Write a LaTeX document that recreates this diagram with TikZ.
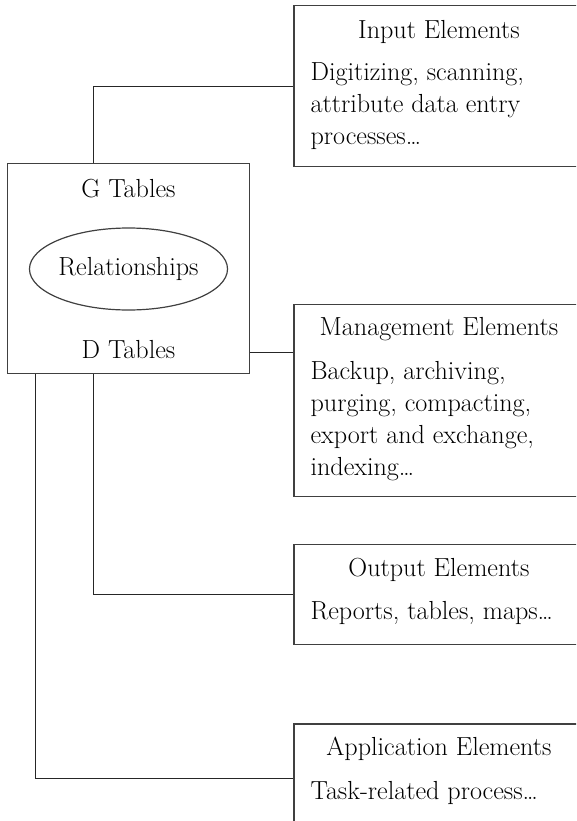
\documentclass[tikz,border=0pt]{standalone}
\usetikzlibrary{positioning,calc,shapes.geometric}

\begin{document}
\begin{tikzpicture}[
  x=0.75pt, y=-0.75pt,
  font=\fontsize{19.6}{24}\selectfont,
  tbl/.style={draw=black!75, line width=0.9pt, minimum width=181.8pt,
              minimum height=157.7pt, inner sep=0pt},
  rel/.style={draw=black!75, line width=0.9pt, ellipse, minimum width=146.3pt,
              minimum height=61.5pt, inner sep=0pt},
  elem/.style={draw=black!75, line width=0.9pt, anchor=north west,
               minimum width=217.5pt, inner sep=0pt},
  ttl/.style={inner sep=0pt},
  txt/.style={inner sep=0pt, anchor=north west, align=left},
  con/.style={draw=black!85, line width=0.8pt}
]
\useasboundingbox (0,0) rectangle (576,821);
\clip (0,0) rectangle (576,821);
% ---------------- database box ----------------
\node[tbl] (db) at (128.5,268.7) {};
\node[ttl] (gt) at (128.5,189) {G Tables};
\node[rel] (rl) at (128.5,269) {Relationships};
\node[ttl] (dt) at (128.5,350) {D Tables};
% ---------------- input ----------------
\node[elem, minimum height=120.75pt] (inp) at (293.3,5) {};
\node[ttl] at ($(inp.north)+(0,26.5)$) {Input Elements};
\node[txt] at ($(inp.north west)+(17,57.5)$)
  {Digitizing, scanning,\\ attribute data entry\\ processes\ldots};
% ---------------- management ----------------
\node[elem, minimum height=144pt] (mgmt) at (293.3,304) {};
\node[ttl] at ($(mgmt.north)+(0,25.5)$) {Management Elements};
\node[txt] at ($(mgmt.north west)+(17,57.5)$)
  {Backup, archiving,\\ purging, compacting,\\ export and exchange,\\ indexing\ldots};
% ---------------- output ----------------
\node[elem, minimum height=75pt] (outp) at (293.3,544) {};
\node[ttl] at ($(outp.north)+(0,25.5)$) {Output Elements};
\node[txt] at ($(outp.north west)+(17,57.5)$) {Reports, tables, maps\ldots};
% ---------------- application ----------------
\node[elem, minimum height=90pt] (app) at (293.3,723.3) {};
\node[ttl] at ($(app.north)+(0,26)$) {Application Elements};
\node[txt] at ($(app.north west)+(17,57.5)$) {Task-related process\ldots};
% ---------------- connectors ----------------
\coordinate (mgmt-in) at ($(mgmt.north west)+(0,48.7)$);
\coordinate (app-in) at ($(app.north west)+(0,55.4)$);
\draw[con] ([xshift=86.4*0.75pt]db.north west) |- (inp.west);
\draw[con] (mgmt-in) -- (mgmt-in -| db.east);
\draw[con] ([xshift=86.4*0.75pt]db.south west) |- (outp.west);
\draw[con] ([xshift=28.9*0.75pt]db.south west) |- (app-in);
\end{tikzpicture}
\end{document}
